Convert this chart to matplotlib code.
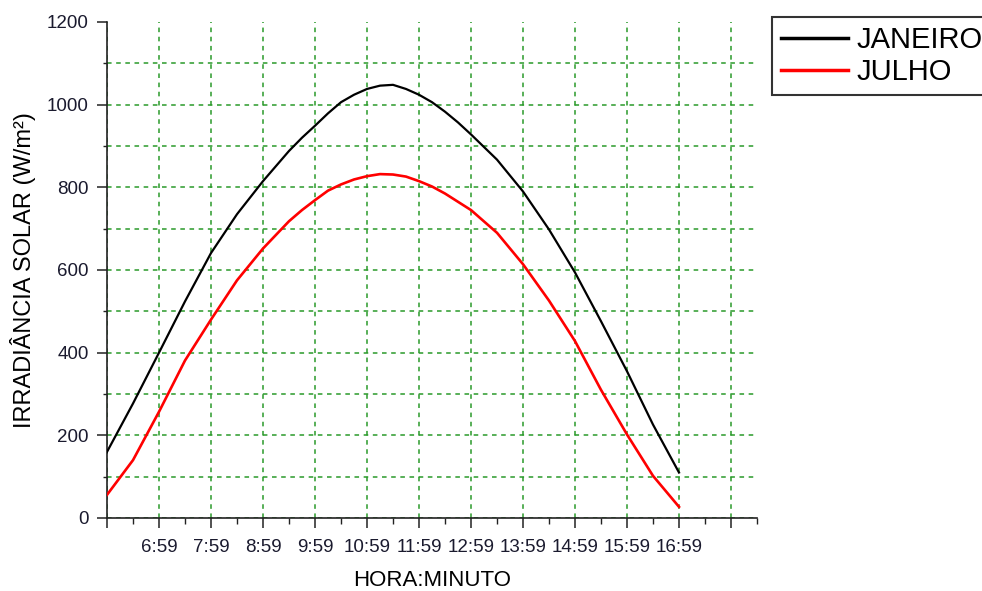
import matplotlib
matplotlib.use("Agg")
import matplotlib.pyplot as plt
from matplotlib.ticker import MultipleLocator, FixedLocator, FixedFormatter

plt.rcParams['font.family'] = ['Liberation Sans', 'DejaVu Sans']

# hours after 5:59
hours = [0, 0.5, 1, 1.5, 2, 2.5, 3, 3.5, 3.75, 4, 4.25, 4.5, 4.75, 5, 5.25, 5.5, 5.75,
         6, 6.25, 6.5, 6.75, 7, 7.5, 8, 8.5, 9, 9.5, 10, 10.5, 11]
janeiro = [160, 277, 400, 524, 641, 735, 815, 888, 920, 949, 979, 1006, 1024, 1038, 1046,
           1048, 1038, 1024, 1006, 983, 957, 928, 867, 790, 698, 594, 476, 355, 226, 110]
julho = [56, 140, 257, 381, 480, 575, 652, 718, 745, 769, 792, 807, 819, 827, 832, 831,
         826, 815, 802, 785, 765, 745, 690, 614, 526, 428, 310, 202, 102, 27]
tick_labels = ['', '6:59', '7:59', '8:59', '9:59', '10:59', '11:59', '12:59', '13:59',
               '14:59', '15:59', '16:59', '']
y_ticks = [0, 200, 400, 600, 800, 1000, 1200]

fig = plt.figure(figsize=(9.82, 5.91), dpi=100)
ax = fig.add_axes([107/982, 1-518/591, 650/982, 496/591])

grid_color = '#2a9a2a'
ax.plot(hours, janeiro, color='black', lw=1.6, label='JANEIRO', zorder=3)
ax.plot(hours, julho, color='#ff0000', lw=1.9, label='JULHO', zorder=3)

ax.set_xlim(0, 12.5)
ax.set_ylim(0, 1200)

ax.xaxis.set_major_locator(FixedLocator(list(range(13))))
ax.xaxis.set_major_formatter(FixedFormatter(tick_labels))
ax.xaxis.set_minor_locator(MultipleLocator(0.5))
ax.yaxis.set_major_locator(FixedLocator(y_ticks))
ax.yaxis.set_minor_locator(FixedLocator([y + 100 for y in y_ticks[:-1]]))

gkw = dict(color=grid_color, linestyle=(0, (3, 3)), lw=1.1)
ax.xaxis.grid(True, which='major', **gkw)
ax.yaxis.grid(True, which='both', **gkw)
ax.set_axisbelow(True)
yticks = ax.yaxis.get_major_ticks(len(y_ticks))
yticks[-1].gridline.set_visible(False)

for s in ['top', 'right']:
    ax.spines[s].set_visible(False)
for s in ['left', 'bottom']:
    ax.spines[s].set_linewidth(1.2)
    ax.spines[s].set_color('#222222')

ax.tick_params(which='major', length=7, width=1.1, color='#222222', labelsize=13.5,
               labelcolor='#1a1a2e')
ax.tick_params(axis='y', which='minor', length=3, width=1.0, color='#222222')
ax.tick_params(axis='x', which='minor', length=4.3, width=1.0, color='#222222')
ax.tick_params(axis='x', which='major', pad=8)
ax.tick_params(axis='y', which='major', pad=6)

ax.set_xlabel('HORA:MINUTO', fontsize=16, labelpad=10)
ax.set_ylabel('IRRADIÂNCIA SOLAR (W/m²)', fontsize=17, labelpad=8)

leg = fig.legend(loc='upper left', bbox_to_anchor=(772/982, 1-17/591), fontsize=21,
                 frameon=True, fancybox=False, edgecolor='black', handlelength=2.3,
                 handletextpad=0.3, labelspacing=0.15, borderpad=0.3, borderaxespad=0)
leg.get_frame().set_linewidth(1.5)
for line in leg.get_lines():
    line.set_linewidth(2.5)

fig.savefig('out.png', dpi=100)
